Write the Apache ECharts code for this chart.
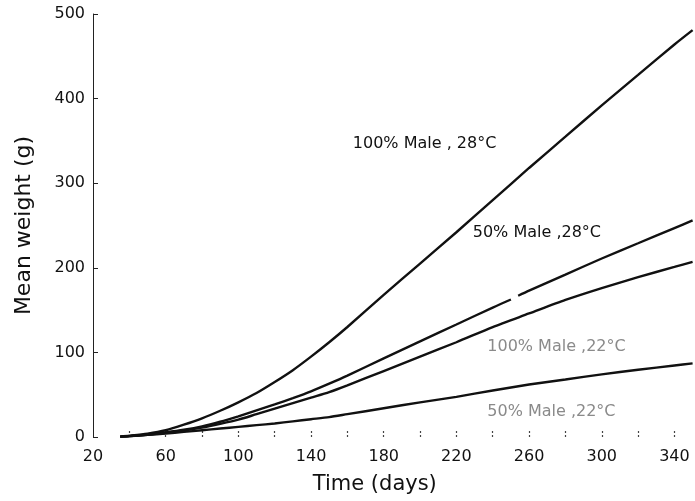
<!DOCTYPE html>
<html>
<head>
<meta charset="utf-8">
<script src="https://cdn.jsdelivr.net/npm/echarts@6/dist/echarts.min.js"></script>
<style>html,body{margin:0;padding:0;background:#fff;}#c{width:695px;height:501px;}</style>
</head>
<body>
<div id="c"></div>
<script>
// ---- data ----
var days = [35, 40, 50, 60, 70, 80, 90, 100, 110, 120, 130, 140, 150, 160, 180, 200, 220, 240, 260, 280, 300, 320, 340, 350];
var male100_28 = [0.5, 1.5, 4, 8, 14.5, 22, 31, 41, 52, 65, 79, 95, 112, 130, 168, 205, 242, 280, 318, 355, 392, 428, 464, 481];
var days50_28 = [35, 40, 50, 60, 70, 80, 90, 100, 110, 120, 130, 140, 150, 160, 180, 200, 220, 240, 250, 252, 254, 260, 280, 300, 320, 340, 350];
var male50_28 = [0.5, 1, 3, 5.5, 8.5, 12.5, 18, 24.5, 31.5, 38.5, 46, 54, 63, 72.5, 93, 113, 133, 153, 162.5, null, 167, 173, 192, 211, 229, 247, 256];
var male100_22 = [0.5, 1, 2.5, 5, 7.5, 11, 15.5, 20.5, 27, 33.5, 40, 46.5, 53, 61, 78, 95, 112, 130, 146, 162, 176, 189, 201, 207];
var male50_22 = [0.5, 1, 2.5, 4, 6, 8, 10, 12, 14, 16, 18.5, 21, 23.5, 27, 34, 41, 47.5, 55, 62, 68, 74, 79.5, 84.5, 87];
var xTickLabels = [20, 60, 100, 140, 180, 220, 260, 300, 340];
var xTickMarks = [40, 60, 80, 100, 120, 140, 160, 180, 200, 220, 240, 260, 280, 300, 320, 340];
var seriesNames = ['100% Male , 28°C', '50% Male ,28°C', '100% Male ,22°C', '50% Male ,22°C'];
// label anchors in data space (day, weight)
var labelAnchors = [[163, 347], [229, 241], [237, 106], [237, 29.5]];
var labelColors = ['#111', '#111', '#8a8a8a', '#8a8a8a'];

function pairs(xs, ys) { return xs.map(function (x, i) { return [x, ys[i]]; }); }

var chart = echarts.init(document.getElementById('c'), null, { renderer: 'canvas' });
var lineStyle = { color: '#111', width: 2.4 };
function mk(name, data) {
  return { name: name, type: 'line', data: data, smooth: 0.25, showSymbol: false, symbol: 'none',
    connectNulls: false, lineStyle: lineStyle, silent: true, animation: false };
}
chart.setOption({
  animation: false,
  backgroundColor: '#fff',
  grid: { left: 93, right: 2.4, top: 14, bottom: 64, containLabel: false },
  xAxis: {
    type: 'value', min: 20, max: 350,
    name: 'Time (days)', nameLocation: 'middle', nameGap: 37,
    nameTextStyle: { fontFamily: 'DejaVu Sans', fontSize: 21, color: '#111', padding: [0, 36, 0, 0] },
    axisLine: { show: false },
    axisTick: { show: true, inside: true, length: 7, customValues: xTickMarks,
      lineStyle: { color: '#444', width: 1.2, type: [2, 2] } },
    axisLabel: { customValues: xTickLabels, margin: 12, fontFamily: 'DejaVu Sans', fontSize: 16, color: '#111' },
    splitLine: { show: false }
  },
  yAxis: {
    type: 'value', min: 0, max: 500, interval: 100,
    name: 'Mean weight (g)', nameLocation: 'middle', nameGap: 58,
    nameTextStyle: { fontFamily: 'DejaVu Sans', fontSize: 22, color: '#111' },
    axisLine: { show: true, lineStyle: { color: '#222', width: 1 } },
    axisTick: { show: true, inside: true, length: 5, lineStyle: { color: '#222', width: 1 } },
    axisLabel: { margin: 8, fontFamily: 'DejaVu Sans', fontSize: 16, color: '#111' },
    splitLine: { show: false }
  },
  series: [
    mk(seriesNames[0], pairs(days, male100_28)),
    mk(seriesNames[1], pairs(days50_28, male50_28)),
    mk(seriesNames[2], pairs(days, male100_22)),
    mk(seriesNames[3], pairs(days, male50_22))
  ]
});

var graphics = labelAnchors.map(function (a, i) {
  var p = chart.convertToPixel({ gridIndex: 0 }, a);
  return { type: 'text', x: p[0], y: p[1], silent: true,
    style: { text: seriesNames[i], fill: labelColors[i], font: '16px "DejaVu Sans"', textAlign: 'left', textVerticalAlign: 'middle' } };
});
chart.setOption({ graphic: graphics });
</script>
</body>
</html>
